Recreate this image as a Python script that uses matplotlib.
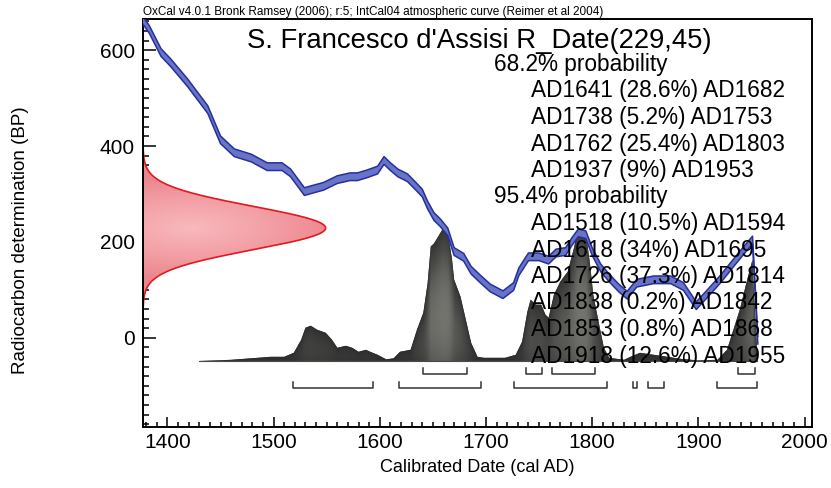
"""OxCal-style radiocarbon calibration plot for S. Francesco d'Assisi."""
import numpy as np
import matplotlib
matplotlib.use("Agg")
from matplotlib import pyplot as plt
from matplotlib.colors import LinearSegmentedColormap
from matplotlib.ticker import MultipleLocator

plt.rcParams["font.family"] = ["Liberation Sans", "DejaVu Sans"]

# radiocarbon measurement
r_date_mean = 229
r_date_sd = 45

# IntCal04 curve (cal AD -> BP)
cal_years = [1377, 1383, 1394, 1403, 1419, 1438, 1450, 1463, 1479, 1494,
             1508, 1516, 1529, 1537, 1547, 1560, 1572, 1579, 1588, 1598,
             1604, 1610, 1617, 1626, 1634, 1640, 1645, 1651, 1657, 1664,
             1670, 1679, 1686, 1695, 1704, 1716, 1726, 1731, 1740, 1750,
             1759, 1766, 1775, 1781, 1787, 1794, 1800, 1808, 1816, 1825,
             1833, 1842, 1858, 1874, 1886, 1898, 1908, 1921, 1933, 1943,
             1951, 1956]
cal_bp = [662, 643, 595, 574, 532, 476, 413, 386, 375, 357,
          357, 344, 305, 310, 316, 330, 336, 336, 342, 350,
          370, 357, 344, 334, 316, 302, 277, 253, 240, 221,
          180, 168, 141, 122, 104, 90, 107, 138, 169, 169,
          162, 177, 180, 201, 219, 215, 180, 146, 125, 104,
          89, 114, 121, 121, 107, 67, 91, 123, 156, 183,
          204, -5]
cal_err = 8

# calibrated probability distribution (relative height)
dist_years = [1430, 1460, 1485, 1497, 1510, 1519, 1526, 1530, 1535, 1541,
              1549, 1555, 1560, 1568, 1574, 1580, 1587, 1591, 1598, 1606,
              1613, 1619, 1629, 1635, 1641, 1645, 1648, 1651, 1659, 1664,
              1668, 1670, 1676, 1681, 1686, 1692, 1698, 1711, 1718, 1728,
              1734, 1739, 1742, 1747, 1752, 1756, 1759, 1764, 1770, 1777,
              1783, 1786, 1789, 1794, 1798, 1801, 1806, 1811, 1816, 1830,
              1836, 1845, 1858, 1871, 1883, 1899, 1918, 1927, 1933, 1939,
              1946, 1951, 1952, 1955, 1955.5]
dist_prob = [0, 1, 3, 4, 4, 8, 21, 33, 35, 31,
             28, 21, 13, 15, 13, 9, 11, 9, 6, 1.5,
             2.5, 9, 11, 31, 48, 77, 114, 117, 131, 129,
             101, 81, 64, 41, 18, 4, 3, 3, 3, 6,
             19, 49, 61, 56, 56, 46, 43, 66, 79, 89,
             113, 129, 131, 128, 96, 66, 39, 13, 3, 1,
             4, 8, 6, 4, 2, 0.5, 1, 11, 31, 51,
             81, 101, 74, 18, 0]

# calibrated ranges
ranges_68 = [(1641, 1682, "28.6%"), (1738, 1753, "5.2%"),
             (1762, 1803, "25.4%"), (1937, 1953, "9%")]
ranges_95 = [(1518, 1594, "10.5%"), (1618, 1695, "34%"), (1726, 1814, "37.3%"),
             (1838, 1842, "0.2%"), (1853, 1868, "0.8%"), (1918, 1955, "12.6%")]

XLIM = (1377, 2007)
YLIM = (-186, 665)
DIST_BASE = -48
DIST_HEIGHT = 274
RDATE_WIDTH = 172


def shade(ax, collection, extent, field, colors, zorder):
    """Paint a gradient image clipped to a filled collection."""
    cmap = LinearSegmentedColormap.from_list("shade", colors)
    im = ax.imshow(field, extent=extent, origin="lower", aspect="auto",
                   cmap=cmap, vmin=0, vmax=1, zorder=zorder, interpolation="bilinear")
    im.set_clip_path(collection.get_paths()[0], transform=ax.transData)
    return im


fig = plt.figure(figsize=(8.31, 4.88), dpi=100)
ax = fig.add_axes([143 / 831, 61 / 488, 669 / 831, 408 / 488])

# calibrated distribution
px = np.array(dist_years, dtype=float)
ph = np.array(dist_prob, dtype=float)
scale = DIST_HEIGHT / ph.max()
dist_fill = ax.fill_between(px, DIST_BASE, DIST_BASE + ph * scale,
                            facecolor="#3a3a3a", edgecolor="none", zorder=2)
gx = np.linspace(px.min(), px.max(), 600)
gy = np.linspace(DIST_BASE, DIST_BASE + DIST_HEIGHT, 300)
GX, GY = np.meshgrid(gx, gy)
H = np.interp(GX, px, ph * scale)
t = (GY - DIST_BASE) / np.maximum(H, 1e-3)
g = np.clip(1 - ((t - 0.35) / 0.7) ** 2, 0, 1)
field = (H / DIST_HEIGHT) ** 0.8 * g
shade(ax, dist_fill, (px.min(), px.max(), DIST_BASE, DIST_BASE + DIST_HEIGHT),
      field, ["#2c2c2c", "#4a4a48", "#74746f"], 2.1)
ax.plot([px.min(), px.max()], [DIST_BASE, DIST_BASE], color="#4a4a4a", lw=0.8, zorder=2.2)

# radiocarbon date as a normal distribution on the y axis
bp = np.linspace(r_date_mean - 4 * r_date_sd, r_date_mean + 4 * r_date_sd, 300)
dens = np.exp(-0.5 * ((bp - r_date_mean) / r_date_sd) ** 2)
rx = XLIM[0] + RDATE_WIDTH * dens
red_fill = ax.fill_betweenx(bp, XLIM[0], rx, facecolor="#f4a3a9", edgecolor="none", zorder=2)
RX, RY = np.meshgrid(np.linspace(XLIM[0], XLIM[0] + RDATE_WIDTH, 200), bp)
rfield = 1 - np.clip(np.hypot((RX - XLIM[0] - 45) / 140, (RY - r_date_mean) / 110), 0, 1)
shade(ax, red_fill, (XLIM[0], XLIM[0] + RDATE_WIDTH, bp.min(), bp.max()),
      rfield, ["#ec858d", "#f3a1a7", "#f8b9bd"], 2.1)
ax.plot(rx, bp, color="#e01a1f", lw=1.2, zorder=2.3)

# calibration curve band
cy = np.array(cal_years, dtype=float)
cb = np.array(cal_bp, dtype=float)
ax.fill_between(cy, cb - cal_err, cb + cal_err, facecolor="#6874c8", edgecolor="none", zorder=3)
ax.plot(cy, cb + cal_err, color="#27309a", lw=1.1, zorder=3.1)
ax.plot(cy, cb - cal_err, color="#27309a", lw=1.1, zorder=3.1)

# range brackets
for rows, top, bot in ((ranges_68, -63, -76), (ranges_95, -92, -104.5)):
    for lo, hi, _ in rows:
        ax.plot([lo, lo, hi, hi], [top, bot, bot, top], color="#333333", lw=1.1, zorder=2)

ax.set_xlim(*XLIM)
ax.set_ylim(*YLIM)


# text block
def axy(py):
    return (427 - py) / 408


ax.text((247 - 143) / 669, axy(48), "S. Francesco d'Assisi R_Date(%d,%d)" % (r_date_mean, r_date_sd),
        transform=ax.transAxes, fontsize=19.8, va="baseline", ha="left", zorder=5)
lines = [("68.2% probability", 494)]
lines += [("AD%d (%s) AD%d" % (lo, p, hi), 531) for lo, hi, p in ranges_68]
lines += [("95.4% probability", 494)]
lines += [("AD%d (%s) AD%d" % (lo, p, hi), 531) for lo, hi, p in ranges_95]
for i, (s, xpix) in enumerate(lines):
    ax.text((xpix - 143) / 669, axy(71 + 26.5 * i), s, transform=ax.transAxes,
            fontsize=16.3, va="baseline", ha="left", zorder=5)

fig.text(143 / 831, (488 - 15) / 488,
         "OxCal v4.0.1 Bronk Ramsey (2006); r:5; IntCal04 atmospheric curve (Reimer et al 2004)",
         fontsize=8.5, ha="left", va="baseline")

# axes styling
ax.xaxis.set_major_locator(MultipleLocator(100))
ax.xaxis.set_minor_locator(MultipleLocator(10))
ax.yaxis.set_major_locator(MultipleLocator(200))
ax.yaxis.set_minor_locator(MultipleLocator(20))
ax.tick_params(axis="both", which="both", direction="in", top=False, right=False,
               labelsize=15, width=1.1, colors="black")
ax.tick_params(axis="x", which="major", length=7.5, pad=4)
ax.tick_params(axis="x", which="minor", length=3.8)
ax.tick_params(axis="y", which="major", length=9, pad=6)
ax.tick_params(axis="y", which="minor", length=4.2)
for sp in ax.spines.values():
    sp.set_linewidth(1.4)

ax.set_xlabel("Calibrated Date (cal AD)", fontsize=13)
ax.set_ylabel("Radiocarbon determination (BP)", fontsize=13.5)
ax.xaxis.set_label_coords(0.5, -0.078)
ax.yaxis.set_label_coords(-0.17, 0.458)

fig.savefig("out.png", dpi=100)
